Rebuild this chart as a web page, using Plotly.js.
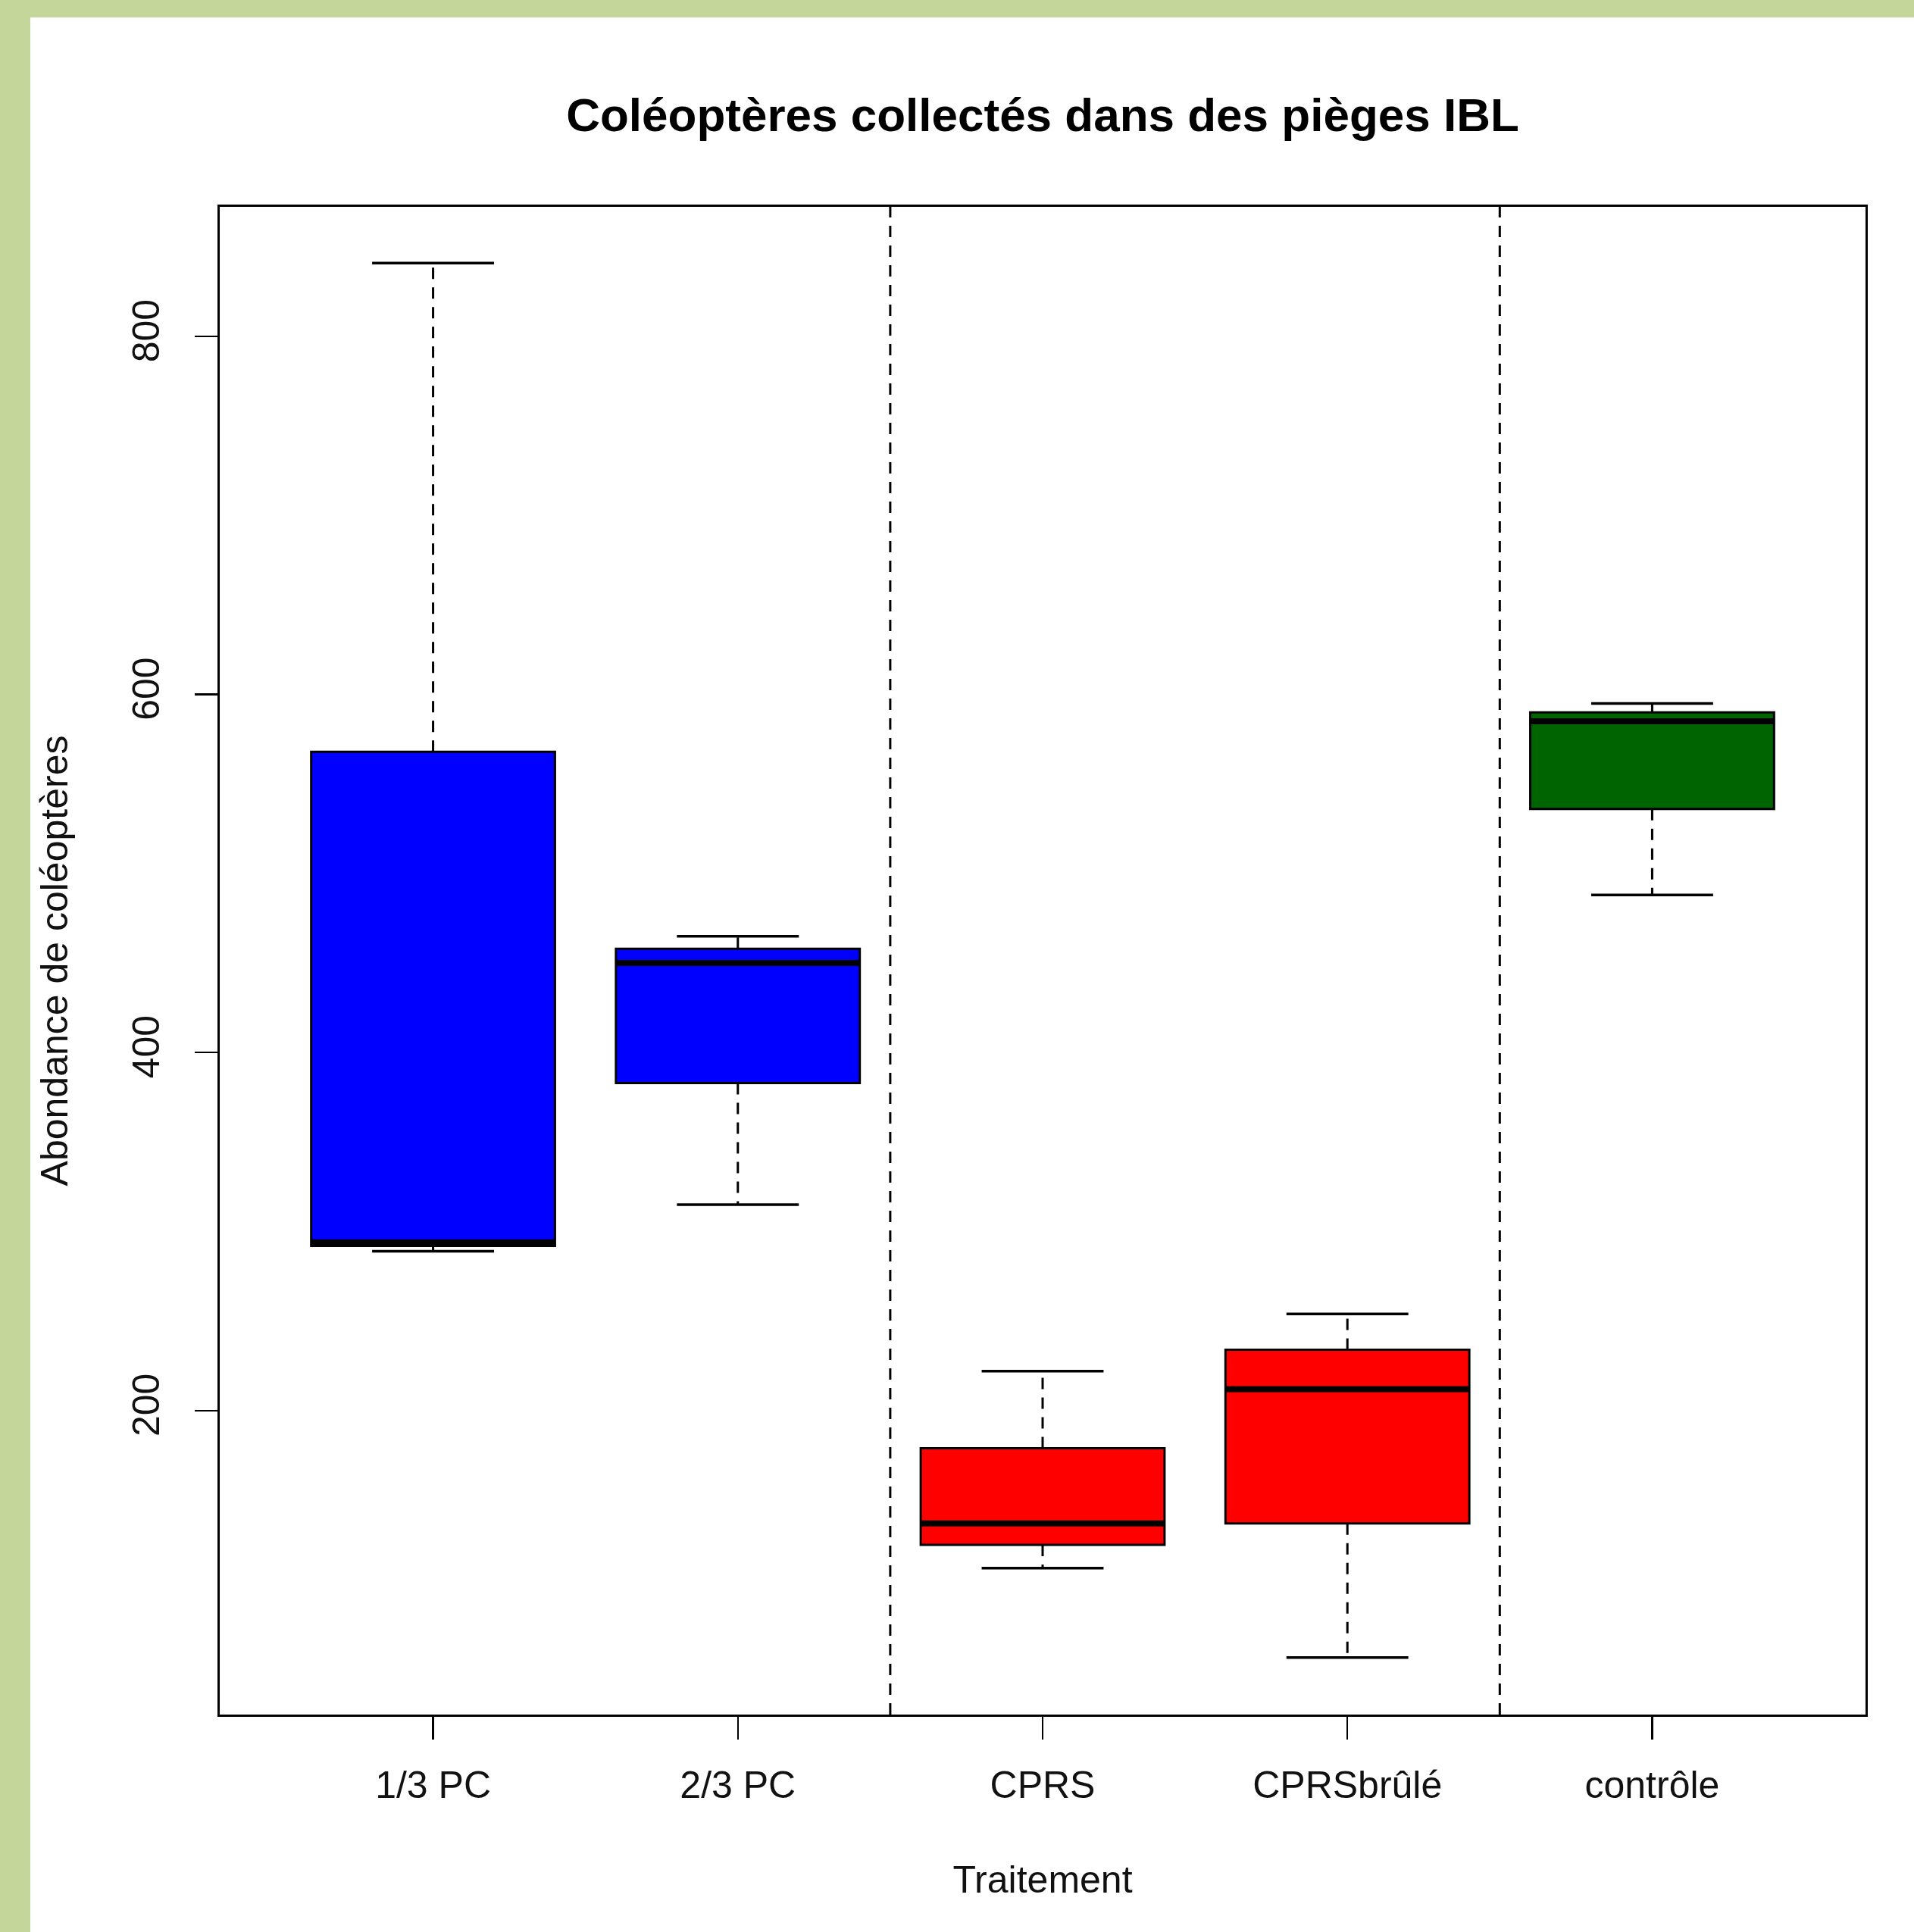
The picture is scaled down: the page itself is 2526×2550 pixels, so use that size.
<!DOCTYPE html>
<html>
<head>
<meta charset="utf-8">
<script src="https://cdn.plot.ly/plotly-3.0.1.min.js"></script>
<style>
  html, body { margin: 0; padding: 0; background: #c5d69b; width: 2526px; height: 2550px; overflow: hidden; }
  #chart { position: absolute; left: 40px; top: 23px; width: 2486px; height: 2527px; background: #ffffff; }
</style>
</head>
<body>
<div id="chart"></div>
<script>
// ---- data ----
const categories   = ['1/3 PC', '2/3 PC', 'CPRS', 'CPRSbrûlé', 'contrôle'];
const positions    = [1, 2, 3, 4, 5];
const lowerWhisker = [289, 315, 112, 62, 488];
const q1           = [292, 383, 125, 137, 536];
const median       = [294, 450, 137, 212, 585];
const q3           = [568, 458, 179, 234, 590];
const upperWhisker = [841, 465, 222, 254, 595];
const fillColors   = ['#0000ff', '#0000ff', '#ff0000', '#ff0000', '#006400'];
const separators   = [2.5, 4.5];
const yTickVals    = [200, 400, 600, 800];

const boxWidth = 0.8;
const capWidth = 0.4;
const dashStyle = '15px,11px';
const fontFam = 'Liberation Sans, Arial, sans-serif';

const traces = [];

// boxes (quartiles), whiskers drawn separately in R style
positions.forEach((p, i) => {
  traces.push({
    type: 'box',
    x: [p],
    q1: [q1[i]],
    median: [median[i]],
    q3: [q3[i]],
    lowerfence: [q1[i]],
    upperfence: [q3[i]],
    width: boxWidth,
    whiskerwidth: 0,
    fillcolor: fillColors[i],
    line: { color: '#000000', width: 3 },
    hoverinfo: 'skip',
    showlegend: false
  });
});

// dashed whiskers
positions.forEach((p, i) => {
  traces.push({
    type: 'scatter', mode: 'lines',
    x: [p, p, null, p, p],
    y: [q3[i], upperWhisker[i], null, q1[i], lowerWhisker[i]],
    line: { color: '#000000', width: 3, dash: dashStyle },
    hoverinfo: 'skip', showlegend: false
  });
});

// caps (staples)
positions.forEach((p, i) => {
  traces.push({
    type: 'scatter', mode: 'lines',
    x: [p - capWidth / 2, p + capWidth / 2, null, p - capWidth / 2, p + capWidth / 2],
    y: [upperWhisker[i], upperWhisker[i], null, lowerWhisker[i], lowerWhisker[i]],
    line: { color: '#000000', width: 3.5 },
    hoverinfo: 'skip', showlegend: false
  });
});

// thick medians
positions.forEach((p, i) => {
  traces.push({
    type: 'scatter', mode: 'lines',
    x: [p - boxWidth / 2, p + boxWidth / 2],
    y: [median[i], median[i]],
    line: { color: '#000000', width: 8 },
    hoverinfo: 'skip', showlegend: false
  });
});

// vertical dashed separators
const shapes = separators.map(s => ({
  type: 'line', xref: 'x', yref: 'paper',
  x0: s, x1: s, y0: 0, y1: 1,
  line: { color: '#000000', width: 3, dash: dashStyle }
}));

const layout = {
  width: 2486,
  height: 2527,
  paper_bgcolor: '#ffffff',
  plot_bgcolor: '#ffffff',
  margin: { l: 250, r: 64, t: 250, b: 287 },
  font: { family: fontFam, color: '#111111', size: 50 },
  title: {
    text: '<b>Coléoptères collectés dans des pièges IBL</b>',
    font: { family: fontFam, size: 62, color: '#000000' },
    x: 0.5, xref: 'paper', xanchor: 'center',
    y: 1 - 128 / 2527, yref: 'container', yanchor: 'middle'
  },
  xaxis: {
    range: [0.3, 5.7],
    tickmode: 'array',
    tickvals: positions,
    ticktext: categories,
    ticks: 'outside', ticklen: 30, tickwidth: 2.5, tickcolor: '#000000',
    showgrid: false, zeroline: false,
    showline: true, mirror: true, linecolor: '#000000', linewidth: 3,
    tickfont: { family: fontFam, size: 50, color: '#111111' },
    ticklabelstandoff: 17,
    title: { text: 'Traitement', font: { family: fontFam, size: 50, color: '#111111' }, standoff: 80 },
    automargin: false,
    fixedrange: true
  },
  yaxis: {
    range: [30.2, 872.4],
    tickmode: 'array',
    tickvals: yTickVals,
    ticktext: yTickVals.map(String),
    tickangle: -90,
    ticks: 'outside', ticklen: 30, tickwidth: 2.5, tickcolor: '#000000',
    showgrid: false, zeroline: false,
    showline: true, mirror: true, linecolor: '#000000', linewidth: 3,
    tickfont: { family: fontFam, size: 50, color: '#111111' },
    ticklabelstandoff: 27,
    title: { text: 'Abondance de coléoptères', font: { family: fontFam, size: 50, color: '#111111' }, standoff: 60 },
    automargin: false,
    fixedrange: true
  },
  shapes: shapes,
  showlegend: false,
  boxmode: 'overlay'
};

Plotly.newPlot('chart', traces, layout, { displayModeBar: false, staticPlot: true });
</script>
</body>
</html>
